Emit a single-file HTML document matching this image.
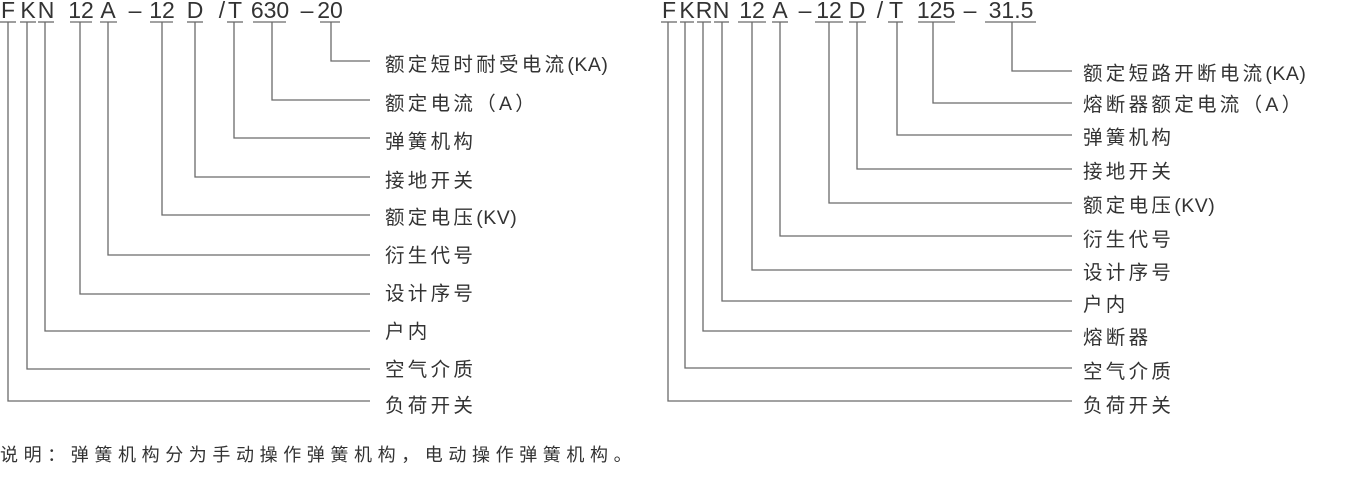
<!DOCTYPE html>
<html><head><meta charset="utf-8"><style>
body{margin:0;background:#fff;width:1370px;height:486px;overflow:hidden}
svg{display:block}
.c{font-family:"Liberation Sans",sans-serif;font-size:23px;fill:#333;text-anchor:middle}
.l{font-family:"Liberation Sans","Noto Sans CJK SC",sans-serif;font-size:19.5px;fill:#333;letter-spacing:3.3px;dominant-baseline:central}
.l tspan{letter-spacing:0.5px}
.n{font-family:"Liberation Sans","Noto Sans CJK SC",sans-serif;font-size:18px;fill:#333;letter-spacing:5.6px;dominant-baseline:central}
line,polyline{stroke:#6a6a6a;stroke-width:1.3;fill:none}
</style></head><body>
<svg width="1370" height="486" viewBox="0 0 1370 486">
<g class="c">
<text x="8" y="18">F</text><text x="28" y="18">K</text><text x="46" y="18">N</text>
<text x="81" y="18">12</text><text x="108" y="18">A</text><text x="135" y="18">–</text>
<text x="162" y="18">12</text><text x="195" y="18">D</text><text x="222" y="18">/</text>
<text x="235" y="18">T</text><text x="270" y="18">630</text><text x="307" y="18">–</text>
<text x="330" y="18">20</text>
</g>
<g>
<line x1="0" y1="22" x2="16" y2="22"/><line x1="20" y1="22" x2="36" y2="22"/><line x1="38" y1="22" x2="54" y2="22"/>
<line x1="70" y1="22" x2="92" y2="22"/><line x1="100" y1="22" x2="117" y2="22"/><line x1="150" y1="22" x2="173" y2="22"/>
<line x1="187" y1="22" x2="203" y2="22"/><line x1="227" y1="22" x2="243" y2="22"/><line x1="253" y1="22" x2="286" y2="22"/>
<line x1="320" y1="22" x2="340" y2="22"/>
<polyline points="331,22 331,61 370,61"/>
<polyline points="272,22 272,100 370,100"/>
<polyline points="234,22 234,138 370,138"/>
<polyline points="195,22 195,177 370,177"/>
<polyline points="162,22 162,215 370,215"/>
<polyline points="108,22 108,255 370,255"/>
<polyline points="80,22 80,294 370,294"/>
<polyline points="45,22 45,331 370,331"/>
<polyline points="27,22 27,369 370,369"/>
<polyline points="8,22 8,401 370,401"/>
</g>
<g class="l">
<text x="385" y="65">额定短时耐受电流<tspan>(KA)</tspan></text>
<text x="385" y="104">额定电流（A）</text>
<text x="385" y="142">弹簧机构</text>
<text x="385" y="181">接地开关</text>
<text x="385" y="218">额定电压<tspan>(KV)</tspan></text>
<text x="385" y="256">衍生代号</text>
<text x="385" y="294">设计序号</text>
<text x="385" y="332">户内</text>
<text x="385" y="370">空气介质</text>
<text x="385" y="406">负荷开关</text>
</g>
<g class="c">
<text x="669" y="18">F</text><text x="687" y="18">K</text><text x="704" y="18">R</text><text x="721" y="18">N</text>
<text x="752" y="18">12</text><text x="780" y="18">A</text><text x="805" y="18">–</text>
<text x="829" y="18">12</text><text x="857" y="18">D</text><text x="880" y="18">/</text>
<text x="896" y="18">T</text><text x="936" y="18">125</text><text x="970" y="18">–</text>
<text x="1011" y="18">31.5</text>
</g>
<g>
<line x1="661" y1="22" x2="677" y2="22"/><line x1="680" y1="22" x2="694" y2="22"/><line x1="697" y1="22" x2="711" y2="22"/>
<line x1="714" y1="22" x2="729" y2="22"/><line x1="738" y1="22" x2="766" y2="22"/><line x1="772" y1="22" x2="788" y2="22"/>
<line x1="815" y1="22" x2="843" y2="22"/><line x1="849" y1="22" x2="866" y2="22"/><line x1="888" y1="22" x2="903" y2="22"/>
<line x1="918" y1="22" x2="955" y2="22"/><line x1="985" y1="22" x2="1036" y2="22"/>
<polyline points="1012,22 1012,71 1072,71"/>
<polyline points="933,22 933,103 1072,103"/>
<polyline points="897,22 897,135 1072,135"/>
<polyline points="857,22 857,169 1072,169"/>
<polyline points="829,22 829,203 1072,203"/>
<polyline points="780,22 780,236 1072,236"/>
<polyline points="752,22 752,270 1072,270"/>
<polyline points="722,22 722,301 1072,301"/>
<polyline points="703,22 703,331 1072,331"/>
<polyline points="685,22 685,368 1072,368"/>
<polyline points="668,22 668,401 1072,401"/>
</g>
<g class="l">
<text x="1083" y="74">额定短路开断电流<tspan>(KA)</tspan></text>
<text x="1083" y="105">熔断器额定电流（A）</text>
<text x="1083" y="138">弹簧机构</text>
<text x="1083" y="172">接地开关</text>
<text x="1083" y="206">额定电压<tspan>(KV)</tspan></text>
<text x="1083" y="240">衍生代号</text>
<text x="1083" y="273">设计序号</text>
<text x="1083" y="305">户内</text>
<text x="1083" y="338">熔断器</text>
<text x="1083" y="372">空气介质</text>
<text x="1083" y="406">负荷开关</text>
</g>
<text class="n" x="0" y="455">说明：弹簧机构分为手动操作弹簧机构，电动操作弹簧机构。</text>
</svg>
</body></html>
